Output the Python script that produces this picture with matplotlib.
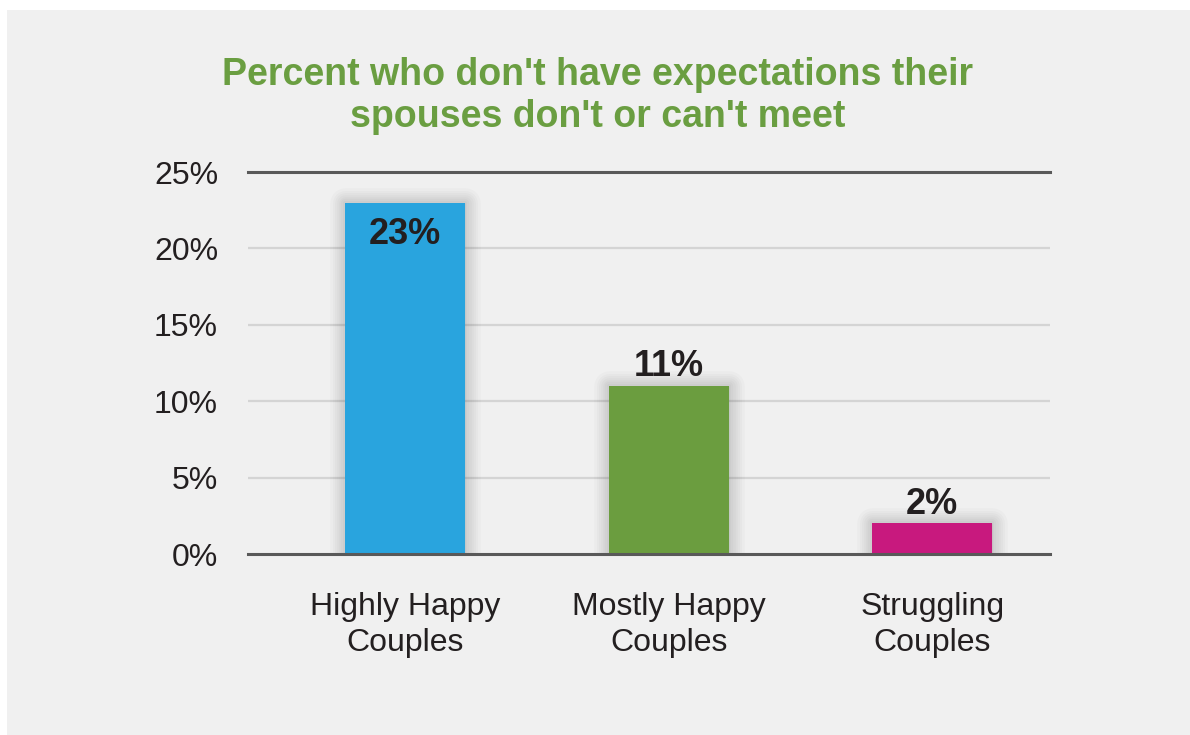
import matplotlib
matplotlib.use("Agg")
import matplotlib.pyplot as plt
from matplotlib.patches import Rectangle
import matplotlib.patheffects as pe

categories = ["Highly Happy\nCouples", "Mostly Happy\nCouples", "Struggling\nCouples"]
values = [23, 11, 2]
bar_colors = ["#29a4de", "#6b9d3f", "#c8197e"]
label_inside = [True, False, False]
yticks = [0, 5, 10, 15, 20, 25]
ytick_labels = ["0%", "5%", "10%", "15%", "20%", "25%"]
title = "Percent who don't have expectations their\nspouses don't or can't meet"

plt.rcParams['font.family'] = ['Liberation Sans', 'DejaVu Sans']

W, H = 1190, 735
fig = plt.figure(figsize=(W / 100, H / 100), dpi=100)
fig.patch.set_facecolor("white")
fig.patches.append(Rectangle((7 / W, 0), 1 - 7 / W, 1 - 10 / H, transform=fig.transFigure,
                             facecolor="#f0f0f0", edgecolor="none", zorder=-10))

ax = fig.add_axes([248 / W, 1 - 554 / H, (1050 - 248) / W, (554 - 172) / H])
ax.set_facecolor("none")
for s in ax.spines.values():
    s.set_visible(False)

ax.set_xlim(-0.597, 2.447)
ax.set_ylim(0, 25)

for t in yticks[1:-1]:
    ax.axhline(t, color="#d4d4d4", lw=1.6, zorder=1)
ax.axhline(25, color="#595959", lw=2.2, zorder=1, clip_on=False)
ax.axhline(0, color="#595959", lw=2.2, zorder=4, clip_on=False)

shadow = [pe.Stroke(linewidth=w, foreground="black", alpha=0.018, joinstyle="round")
          for w in (22, 18, 15, 12, 9, 6, 3)] + [pe.Normal()]
x = list(range(len(categories)))
bars = ax.bar(x, values, width=0.455, color=bar_colors, zorder=3)
for b in bars:
    b.set_path_effects(shadow)

for xi, v, inside in zip(x, values, label_inside):
    off = -32 if inside else 19
    ax.annotate(f"{v}%", (xi, v), xytext=(0, off), textcoords="offset pixels",
                ha="center", va="center", fontsize=26, fontweight="bold", color="#231f20", zorder=5)

ax.set_yticks(yticks)
ax.set_yticklabels(ytick_labels, fontsize=23, color="#231f20")
ax.set_xticks(x)
ax.set_xticklabels(categories, fontsize=23, color="#231f20", linespacing=1.3)
ax.tick_params(axis="y", length=0, pad=21.6)
ax.tick_params(axis="x", length=0, pad=27)

fig.text(598 / W, 1 - 96 / H, title, ha="center", va="center", fontsize=27,
         fontweight="bold", color="#6a9e41", linespacing=1.2)

fig.savefig("out.png", dpi=100)
